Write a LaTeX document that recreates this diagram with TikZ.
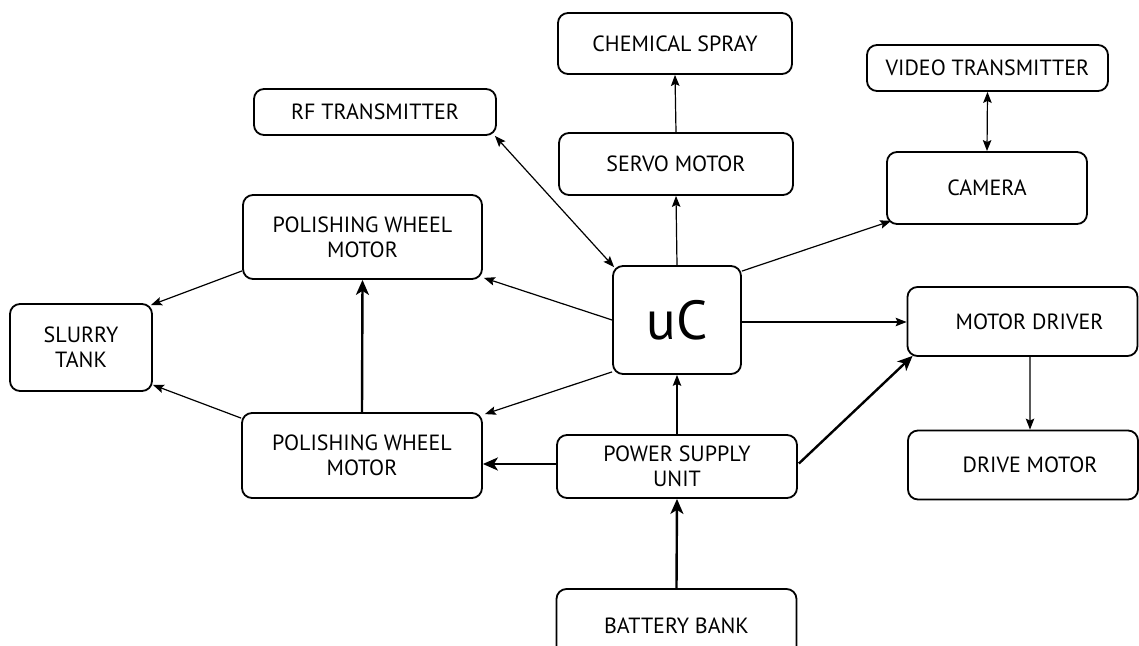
\documentclass[tikz,border=0pt]{standalone}
\usepackage{fontspec}
\setmainfont{PT Sans}
\usetikzlibrary{arrows.meta}
\tikzset{
  blk/.style={draw, line width=1.8bp, rounded corners=10bp, inner sep=0pt, align=center,
    font=\fontsize{22bp}{25bp}\selectfont},
  conn/.style={line width=1.2bp, -{Stealth[length=11bp,width=8.5bp,inset=2bp]}},
  connboth/.style={line width=1.2bp, {Stealth[length=11bp,width=8.5bp,inset=2bp]}-{Stealth[length=11bp,width=8.5bp,inset=2bp]}},
  power/.style={line width=2.4bp, -{Stealth[length=15bp,width=13bp,inset=4bp]}},
}
\begin{document}
\begin{tikzpicture}[x=1bp,y=-1bp]
\useasboundingbox (0,0) rectangle (1139,646);
\fill[white] (0,0) rectangle (1139,646);
\node[blk, minimum width=234bp, minimum height=61bp] (chem) at (675,43.5) {CHEMICAL SPRAY};
\node[blk, minimum width=242bp, minimum height=46bp] (rf) at (375,112) {RF TRANSMITTER};
\node[blk, minimum width=234bp, minimum height=62bp] (servo) at (676,164) {SERVO MOTOR};
\node[blk, minimum width=241bp, minimum height=46bp] (video) at (987.5,68) {VIDEO TRANSMITTER};
\node[blk, minimum width=200bp, minimum height=72bp] (camera) at (987,188) {CAMERA};
\node[blk, minimum width=239bp, minimum height=84bp] (pwmtop) at (362.5,237) {POLISHING WHEEL\\MOTOR};
\node[blk, minimum width=128bp, minimum height=108bp, font=\fontsize{55bp}{60bp}\selectfont] (uc) at (677,320) {uC};
\node[blk, minimum width=142bp, minimum height=87bp] (slurry) at (81,347.5) {SLURRY\\TANK};
\node[blk, minimum width=230bp, minimum height=69bp] (md) at (1022.5,321.5) {\hspace*{14bp}MOTOR DRIVER};
\node[blk, minimum width=240bp, minimum height=85bp] (pwmbot) at (362,455.5) {POLISHING WHEEL\\MOTOR};
\node[blk, minimum width=240bp, minimum height=63bp] (psu) at (677,466.5) {POWER SUPPLY\\UNIT};
\node[blk, minimum width=230bp, minimum height=69bp] (dm) at (1023,465) {\hspace*{14bp}DRIVE MOTOR};
\node[blk, minimum width=240bp, minimum height=74bp] (bat) at (676.5,626) {BATTERY BANK};

\draw[conn] (servo.north) -- (chem.south);
\draw[conn] (uc.north) -- (servo.south);
\draw[connboth] ([shift={(2,2)}]uc.north west) -- ([shift={(-2,0)}]rf.south east);
\draw[conn] ([shift={(0,6)}]uc.north east) -- ([shift={(5,-4)}]camera.south west);
\draw[connboth] (video.south) -- (camera.north);
\draw[conn] (uc.east |- 0,322) -- (md.west |- 0,322);
\draw[conn] (uc.west) -- ([shift={(1,-2)}]pwmtop.south east);
\draw[conn] ([shift={(0,-3)}]uc.south west) -- ([shift={(2,2)}]pwmbot.north east);
\draw[conn] (psu.north) -- (uc.south);
\draw[power] (psu.west |- 0,464) -- (pwmbot.east |- 0,464);
\draw[power] ([shift={(1,-3)}]psu.east) -- ([shift={(6,-1)}]md.south west);
\draw[power] (bat.north) -- (psu.south);
\draw[power] (pwmbot.north) -- (pwmtop.south);
\draw[conn] ([shift={(0,-9)}]pwmtop.south west) -- ([shift={(-2,2)}]slurry.north east);
\draw[conn] ([shift={(0,6)}]pwmbot.north west) -- ([shift={(0,-7)}]slurry.south east);
\draw[conn] ([shift={(7.5,0)}]md.south) -- ([shift={(7,0)}]dm.north);
\end{tikzpicture}
\end{document}
